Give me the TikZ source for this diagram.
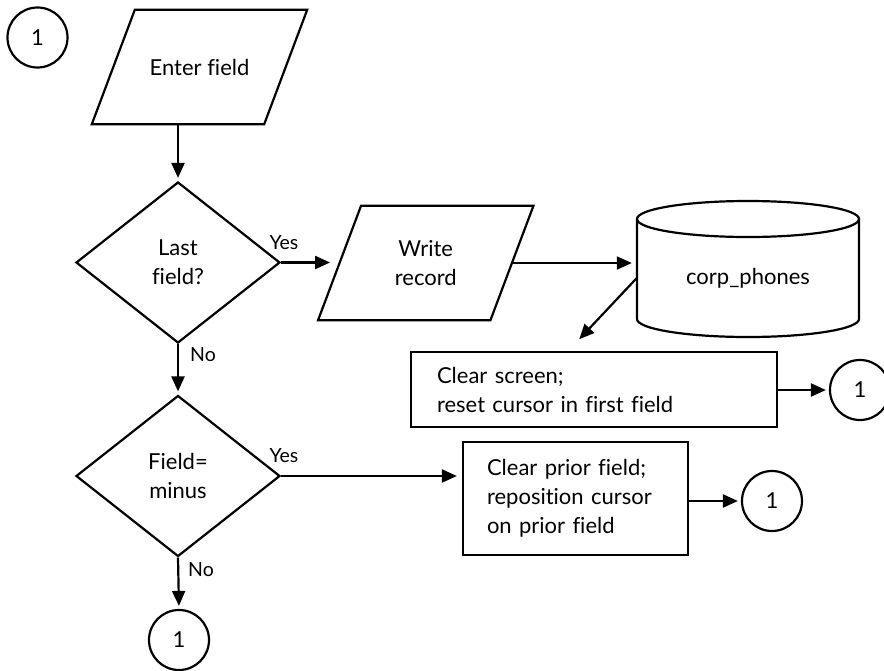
\documentclass[tikz,border=0pt]{standalone}
\usepackage{fontspec}
\setmainfont{Lato}[Ligatures=NoCommon]
\usetikzlibrary{shapes.geometric,arrows.meta,calc}
\begin{document}
\begin{tikzpicture}[x=1pt,y=-1pt,
  every node/.style={font=\fontsize{22}{29}\selectfont},
  ln/.style={line width=2.2pt},
  arr/.style={ln,-{Triangle[length=15pt,width=13pt]},shorten >=3pt},
  parabox/.style={rectangle,draw=none,minimum width=215pt,minimum height=114pt,inner sep=0pt,align=center},
  dec/.style={diamond,draw,ln,minimum width=204pt,minimum height=161pt,inner sep=0pt,align=center},
  conn/.style={circle,draw,ln,minimum size=60pt,inner sep=0pt},
  procbox/.style={rectangle,draw,ln,align=left,anchor=center},
  lbl/.style={font=\fontsize{19.5}{21}\selectfont,inner sep=0pt}
]
\useasboundingbox (0,0) rectangle (884,670);

% nodes
\node[conn] (c0) at (37.5,37.5) {1};
\node[parabox] (ef) at (199.5,67) {Enter field};
\node[dec] (d1) at (178,262.5) {Last\\field?};
\node[parabox] (wr) at (425.75,263) {Write\\record};
\node[minimum width=222pt,minimum height=118pt,inner sep=0pt] (cyl) at (748,278) {corp\_phones};
\node[procbox,minimum width=366pt,minimum height=75pt,text width=314pt,inner xsep=26pt] (cs) at (594,389.5) {Clear screen;\\reset cursor in first field};
\node[conn] (c1) at (860,390) {1};
\node[dec] (d2) at (178,476) {Field=\\minus};
\node[procbox,minimum width=225pt,minimum height=113pt,text width=177pt,inner xsep=24pt] (cp) at (575.5,498.5) {Clear prior field;\\reposition cursor\\on prior field};
\node[conn] (c2) at (772,501) {1};
\node[conn] (c3) at (179,640) {1};

% parallelograms
\foreach \p in {ef,wr}
  \draw[ln,line join=miter] ($(\p.north west)+(43,0)$) -- (\p.north east) -- ($(\p.south east)+(-43,0)$) -- (\p.south west) -- cycle;

% cylinder drawing
\draw[ln] (748,219) ellipse [x radius=111, y radius=18];
\draw[ln] (637,219) -- (637,319) arc[start angle=180,end angle=360,x radius=111,y radius=-18] -- (859,219);

% labels
\node[lbl] (y1) at (284,243) {Yes};
\node[lbl] (n1) at (203,355) {No};
\node[lbl] (y2) at (284,456) {Yes};
\node[lbl] (n2) at (201,570) {No};

% connectors
\draw[arr] (ef.south -| d1.north) -- (d1.north);
\draw[arr,shorten >=-12pt] (d1.east) -- (d1.east -| wr.west);
\draw[arr,shorten >=5pt,shorten <=-21pt] (wr.east) -- (wr.east -| cyl.west);
\draw[arr,shorten >=16pt] (cyl.west) -- ($(cs.north west)!0.43!(cs.north east)$);
\draw[arr] (cs.east |- c1.west) -- (c1.west);
\draw[arr] (d1.south) -- (d2.north);
\draw[arr,shorten >=5pt] (d2.east) -- (d2.east -| cp.west);
\draw[arr] (cp.east |- c2.west) -- (c2.west);
\draw[arr] (d2.south) -- (c3.north);
\end{tikzpicture}
\end{document}
